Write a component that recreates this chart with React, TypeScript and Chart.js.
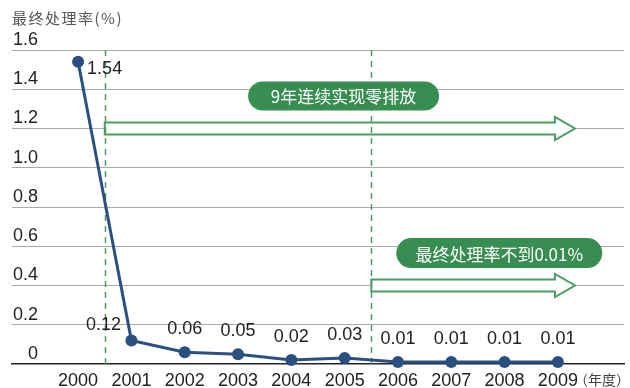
import { useEffect, useRef } from 'react';
import { Chart, registerables } from 'chart.js';

Chart.register(...registerables);

const years = ['2000', '2001', '2002', '2003', '2004', '2005', '2006', '2007', '2008', '2009'];
const rates = [1.54, 0.12, 0.06, 0.05, 0.02, 0.03, 0.01, 0.01, 0.01, 0.01];
const rateLabels = ['1.54', '0.12', '0.06', '0.05', '0.02', '0.03', '0.01', '0.01', '0.01', '0.01'];
const yTickValues = [0, 0.2, 0.4, 0.6, 0.8, 1.0, 1.2, 1.4, 1.6];
const yTickLabels = ['0', '0.2', '0.4', '0.6', '0.8', '1.0', '1.2', '1.4', '1.6'];
const yTitle = '最终处理率(%)';
const xUnit = '（年度）';
const badgeTop = '9年连续实现零排放';
const badgeBottom = '最终处理率不到0.01%';

const GREEN = '#378e50';
const GREEN_LINE = '#4a9c62';
const NAVY = '#2a5082';
const CJK = '"Noto Sans CJK SC", sans-serif';
const LATIN = '"Liberation Sans", Arial, sans-serif';

function drawArrow(ctx: CanvasRenderingContext2D, x0: number, tip: number, yc: number) {
  const bh = 6;
  const hh = 11.5;
  const hl = 20;
  ctx.save();
  ctx.beginPath();
  ctx.moveTo(x0, yc - bh);
  ctx.lineTo(tip - hl, yc - bh);
  ctx.lineTo(tip - hl, yc - hh);
  ctx.lineTo(tip, yc);
  ctx.lineTo(tip - hl, yc + hh);
  ctx.lineTo(tip - hl, yc + bh);
  ctx.lineTo(x0, yc + bh);
  ctx.closePath();
  ctx.fillStyle = '#ffffff';
  ctx.fill();
  ctx.strokeStyle = GREEN_LINE;
  ctx.lineWidth = 2;
  ctx.lineJoin = 'miter';
  ctx.stroke();
  ctx.restore();
}

function drawBadge(ctx: CanvasRenderingContext2D, text: string, cx: number, cy: number, w: number, h: number) {
  const r = h / 2;
  const x = cx - w / 2;
  const y = cy - h / 2;
  ctx.save();
  ctx.beginPath();
  ctx.moveTo(x + r, y);
  ctx.lineTo(x + w - r, y);
  ctx.arc(x + w - r, cy, r, -Math.PI / 2, Math.PI / 2);
  ctx.lineTo(x + r, y + h);
  ctx.arc(x + r, cy, r, Math.PI / 2, Math.PI * 1.5);
  ctx.closePath();
  ctx.fillStyle = GREEN;
  ctx.fill();
  ctx.fillStyle = '#ffffff';
  ctx.font = `17px ${CJK}`;
  ctx.textAlign = 'center';
  ctx.textBaseline = 'middle';
  ctx.fillText(text, cx, cy + 1);
  ctx.restore();
}

const overlay = {
  id: 'overlay',
  beforeDatasetsDraw(chart: any) {
    const { ctx, scales } = chart;
    const x = scales.x;
    const y = scales.y;
    drawArrow(ctx, x.getPixelForValue(2000.5), x.getPixelForValue(2009.32), y.getPixelForValue(1.2));
    drawArrow(ctx, x.getPixelForValue(2005.5), x.getPixelForValue(2009.32), y.getPixelForValue(0.4));
    ctx.save();
    ctx.setLineDash([6, 5]);
    ctx.strokeStyle = GREEN_LINE;
    ctx.lineWidth = 1.5;
    [2000.5, 2005.5].forEach((v) => {
      const px = Math.round(x.getPixelForValue(v)) + 0.5;
      ctx.beginPath();
      ctx.moveTo(px, y.getPixelForValue(1.6));
      ctx.lineTo(px, y.getPixelForValue(0));
      ctx.stroke();
    });
    ctx.restore();
    drawBadge(ctx, badgeTop, x.getPixelForValue(2004.98), y.getPixelForValue(1.366), 191, 29);
    drawBadge(ctx, badgeBottom, x.getPixelForValue(2007.9), y.getPixelForValue(0.565), 206, 30);
  },
  afterDatasetsDraw(chart: any) {
    const { ctx } = chart;
    const meta = chart.getDatasetMeta(0);
    ctx.save();
    ctx.font = `18px ${LATIN}`;
    ctx.fillStyle = '#222222';
    ctx.textBaseline = 'middle';
    meta.data.forEach((pt: any, i: number) => {
      let tx = pt.x;
      let ty = pt.y - 23;
      ctx.textAlign = 'center';
      if (i === 0) {
        ctx.textAlign = 'left';
        tx = pt.x + 9;
        ty = pt.y + 7;
      } else if (i === 1) {
        tx = pt.x - 28;
        ty = pt.y - 15;
      }
      ctx.fillText(rateLabels[i], tx, ty);
    });
    ctx.restore();
  },
  afterDraw(chart: any) {
    const { ctx, chartArea } = chart;
    ctx.save();
    ctx.fillStyle = '#555555';
    ctx.font = `15px ${CJK}`;
    (ctx as any).letterSpacing = '1.5px';
    ctx.textAlign = 'left';
    ctx.textBaseline = 'middle';
    ctx.fillText(yTitle, 12, 18);
    ctx.fillStyle = '#444444';
    ctx.font = `14px ${CJK}`;
    (ctx as any).letterSpacing = '0px';
    const xs = chart.scales.x;
    ctx.fillText(xUnit, xs.getPixelForValue(2009) + 16, chartArea.bottom + 16);
    ctx.restore();
  },
};

export default function App() {
  const ref = useRef<HTMLCanvasElement | null>(null);

  useEffect(() => {
    if (!ref.current) return;
    const chart = new Chart(ref.current, {
      type: 'line',
      data: {
        datasets: [
          {
            data: years.map((yr, i) => ({ x: Number(yr), y: rates[i] })),
            borderColor: NAVY,
            backgroundColor: NAVY,
            borderWidth: 3,
            pointRadius: 6,
            pointBackgroundColor: NAVY,
            pointBorderWidth: 0,
            pointHoverRadius: 6,
            tension: 0,
            clip: false as any,
          },
        ],
      },
      options: {
        responsive: false,
        animation: false,
        layout: { padding: { top: 50, right: 6, left: 0, bottom: 0 } },
        plugins: { legend: { display: false }, tooltip: { enabled: false } },
        scales: {
          x: {
            type: 'linear',
            min: 1998.76,
            max: 2010.24,
            afterBuildTicks: (scale: any) => {
              scale.ticks = years.map((yr) => ({ value: Number(yr) }));
            },
            afterFit: (scale: any) => {
              scale.height = 24;
            },
            grid: { display: false, drawTicks: false },
            border: { display: true, color: '#222222', width: 1.5 },
            ticks: {
              autoSkip: false,
              maxRotation: 0,
              padding: 6,
              color: '#222222',
              font: { family: LATIN, size: 18 },
              callback: (_v: any, i: number) => years[i],
            },
          },
          y: {
            type: 'linear',
            min: 0,
            max: 1.6,
            afterBuildTicks: (scale: any) => {
              scale.ticks = yTickValues.map((v) => ({ value: v }));
            },
            afterFit: (scale: any) => {
              scale.width = 12;
            },
            grid: {
              drawTicks: false,
              color: (c: any) => (c.tick && c.tick.value === 0 ? 'rgba(0,0,0,0)' : '#a9a9a9'),
              lineWidth: 1,
            },
            border: { display: false },
            ticks: {
              mirror: true,
              crossAlign: 'far',
              padding: 1,
              labelOffset: -10,
              color: '#222222',
              font: { family: LATIN, size: 18 },
              callback: (_v: any, i: number) => yTickLabels[i],
            },
          },
        },
      },
      plugins: [overlay],
    });
    return () => chart.destroy();
  }, []);

  return (
    <div style={{ position: 'absolute', left: 0, top: 0, width: 630, height: 388, background: '#ffffff' }}>
      <canvas ref={ref} width={630} height={388} />
    </div>
  );
}
